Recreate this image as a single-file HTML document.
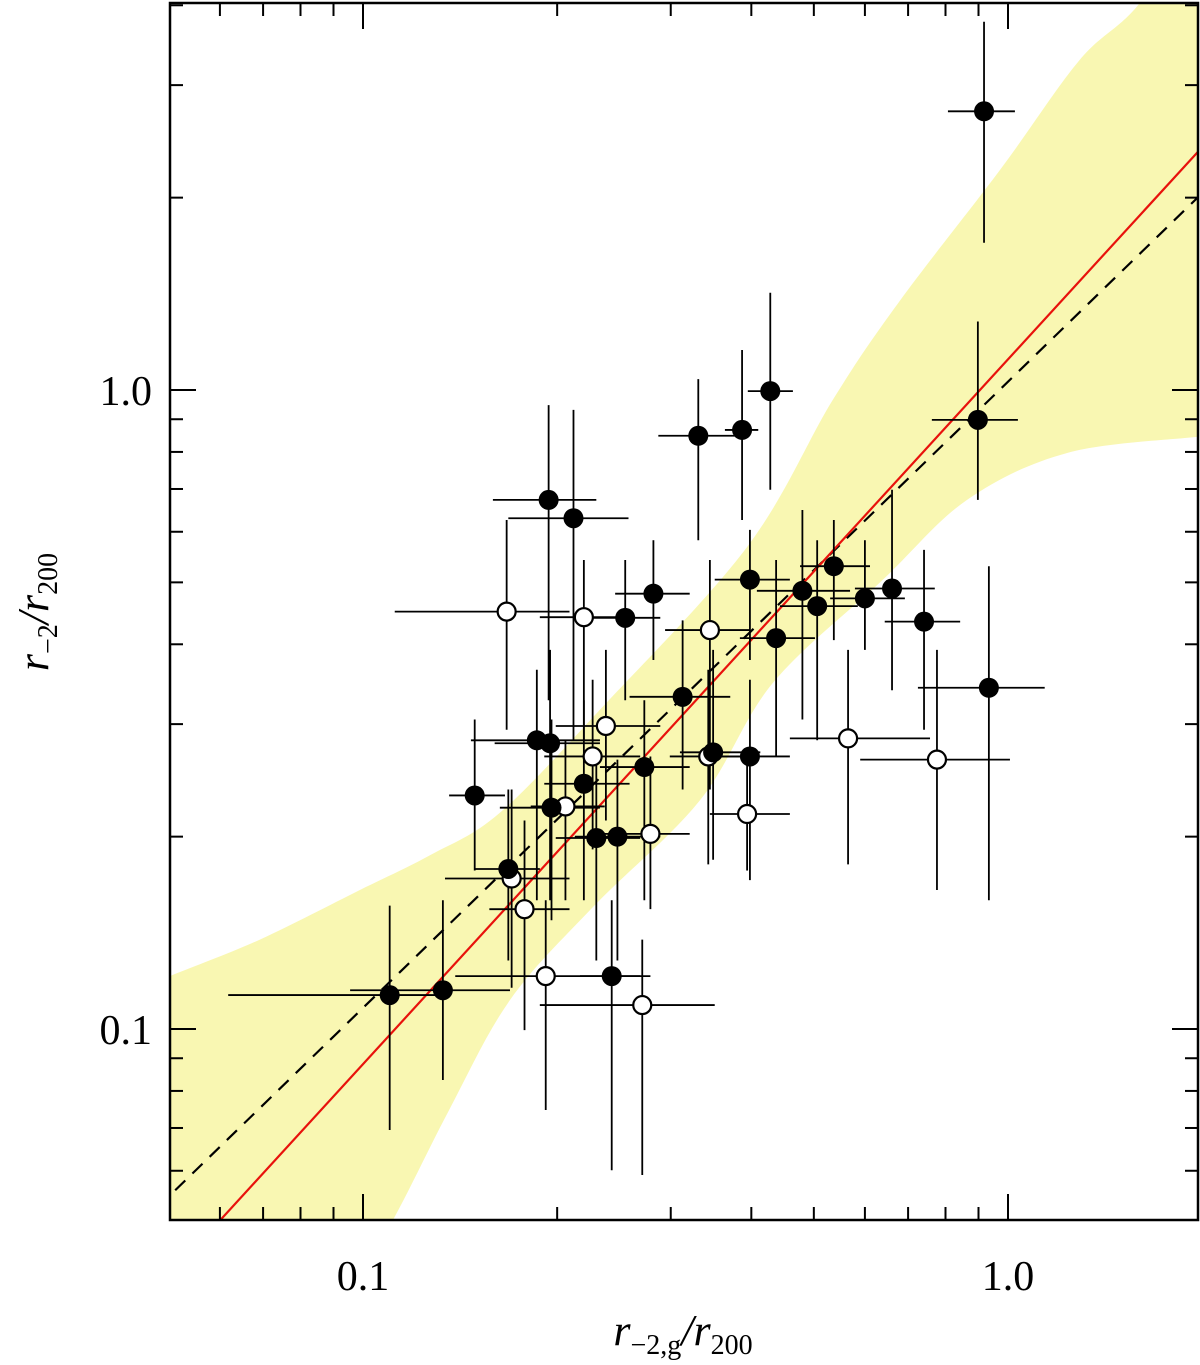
<!DOCTYPE html>
<html><head><meta charset="utf-8"><style>
html,body{margin:0;padding:0;background:#fff;width:1200px;height:1365px;overflow:hidden}
svg{display:block}
text{font-family:"Liberation Serif",serif;fill:#000}
</style></head><body>
<svg id="chart" width="1200" height="1365" viewBox="0 0 1200 1365">
<defs><clipPath id="plotclip"><rect x="170" y="3" width="1028" height="1217"/></clipPath></defs>
<g id="band" clip-path="url(#plotclip)"></g>
<g id="lines" clip-path="url(#plotclip)"></g>
<g id="errs"></g>
<g id="pts"></g>
<g id="axes"></g>
<text x="683" y="1345" text-anchor="middle" font-size="44" font-style="italic">r<tspan font-size="28" dy="9" font-style="normal">−2,g</tspan><tspan dy="-9">/r</tspan><tspan font-size="28" dy="9" font-style="normal">200</tspan></text>
<text transform="translate(48,612) rotate(-90)" text-anchor="middle" font-size="44" font-style="italic">r<tspan font-size="28" dy="9" font-style="normal">−2</tspan><tspan dy="-9">/r</tspan><tspan font-size="28" dy="9" font-style="normal">200</tspan></text>
</svg>
<script>
const filledX=[.918,.898,.934,.428,.387,.331,.194,.212,.282,.255,.398,.480,.506,.537,.600,.661,.741,.437,.313,.349,.398,.273,.186,.195,.220,.149,.196,.230,.248,.168,.243,.133,.110];
const filledY=[2.73,.898,.342,.996,.866,.848,.673,.630,.480,.440,.505,.485,.459,.530,.472,.489,.434,.409,.331,.271,.267,.257,.283,.280,.242,.232,.222,.199,.200,.178,.121,.115,.113];
const filledXlo=[.807,.762,.725,.395,.364,.287,.159,.168,.246,.217,.351,.408,.443,.476,.530,.579,.644,.384,.259,.310,.351,.233,.147,.160,.191,.136,.163,.199,.213,.149,.217,.0955,.0618];
const filledXhi=[1.025,1.036,1.14,.464,.410,.377,.230,.258,.321,.289,.459,.569,.585,.611,.692,.770,.843,.502,.371,.413,.459,.321,.233,.233,.259,.166,.233,.269,.289,.188,.279,.169,.132];
const filledYlo=[1.70,.673,.159,.698,.626,.582,.327,.283,.378,.327,.378,.305,.283,.406,.392,.339,.294,.267,.237,.184,.171,.159,.159,.159,.159,.177,.148,.128,.128,.128,.0601,.0832,.0695];
const filledYhi=[3.77,1.28,.530,1.42,1.155,1.04,.947,.931,.582,.542,.604,.649,.582,.626,.582,.698,.562,.542,.436,.392,.352,.327,.365,.392,.327,.305,.305,.264,.264,.237,.159,.159,.156];
const openX=[.167,.220,.345,.238,.227,.343,.565,.776,.206,.394,.279,.170,.178,.192,.271];
const openY=[.450,.441,.421,.298,.267,.267,.285,.264,.223,.217,.202,.172,.154,.121,.109];
const openXlo=[.112,.188,.294,.199,.191,.299,.459,.590,.182,.345,.233,.134,.157,.139,.188];
const openXhi=[.209,.259,.398,.289,.269,.391,.757,1.007,.237,.459,.321,.209,.209,.269,.351];
const openYlo=[.294,.283,.237,.212,.191,.181,.181,.165,.159,.177,.154,.116,.0996,.0747,.0591];
const openYhi=[.626,.542,.542,.392,.352,.365,.392,.392,.283,.273,.267,.237,.212,.159,.138];
const bandUpX=[0.04,0.0502,0.0692,0.0989,0.127,0.163,0.233,0.394,0.535,0.680,0.972,1.29,1.60,2.1];
const bandUpY=[0.11,0.121,0.138,0.165,0.187,0.218,0.316,0.568,0.965,1.38,2.21,3.28,4.03,6];
const bandLoX=[0.04,0.09,0.111,0.136,0.169,0.227,0.333,0.432,0.640,0.864,1.235,1.97,2.1];
const bandLoY=[0.02,0.035,0.05,0.0747,0.111,0.155,0.228,0.348,0.505,0.673,0.797,0.845,0.85];
const redFit=[0.048,1.103];
const dashFit=[0.013,0.980];
const xTickMajor=[0.1,1.0], xTickLabels=["0.1","1.0"];
const xTickMinor=[0.06,0.07,0.08,0.09,0.2,0.3,0.4,0.5,0.6,0.7,0.8,0.9,2];
const yTickMajor=[0.1,1.0], yTickLabels=["0.1","1.0"];
const yTickMinor=[0.06,0.07,0.08,0.09,0.2,0.3,0.4,0.5,0.6,0.7,0.8,0.9,2,3,4];
const X0=170,X1=1198,Y0=3,Y1=1220;
const sx=v=>1008+645*Math.log10(v);
const sy=v=>390-639*Math.log10(v);
const NS='http://www.w3.org/2000/svg';
function mk(tag,parent,attrs){const e=document.createElementNS(NS,tag);for(const k in attrs)e.setAttribute(k,attrs[k]);parent.appendChild(e);return e;}
function smooth(p){let d='M'+p[0][0]+','+p[0][1];for(let i=0;i<p.length-1;i++){const p0=p[Math.max(0,i-1)],p1=p[i],p2=p[i+1],p3=p[Math.min(p.length-1,i+2)];
d+=' C'+(p1[0]+(p2[0]-p0[0])/6)+','+(p1[1]+(p2[1]-p0[1])/6)+' '+(p2[0]-(p3[0]-p1[0])/6)+','+(p2[1]-(p3[1]-p1[1])/6)+' '+p2[0]+','+p2[1];}return d;}
const up=bandUpX.map((v,i)=>[sx(v),sy(bandUpY[i])]);
const lo=bandLoX.map((v,i)=>[sx(v),sy(bandLoY[i])]).reverse();
const poly=mk('path',document.getElementById('band'),{d:smooth(up)+' L'+lo[0][0]+','+lo[0][1]+' '+smooth(lo).slice(1)+' Z',fill:'#f9f7b2'});


const lg=document.getElementById('lines');
function fitLine(f,attrs,name){const a=0.04,b=2.2;const l=mk('line',lg,Object.assign({x1:sx(a),y1:sy(Math.pow(10,f[0]+f[1]*Math.log10(a))),x2:sx(b),y2:sy(Math.pow(10,f[0]+f[1]*Math.log10(b)))},attrs));

}
fitLine(dashFit,{stroke:'#000','stroke-width':2.2,'stroke-dasharray':'14,10'},'dashed-one-to-one-line');
fitLine(redFit,{stroke:'#e8120c','stroke-width':2.2},'red-fit-line');
const eg=document.getElementById('errs'),pg=document.getElementById('pts');
function series(X,Y,xl,xh,yl,yh,fill,name){
 X.forEach((v,i)=>{
  const h=mk('line',eg,{x1:sx(xl[i]),x2:sx(xh[i]),y1:sy(Y[i]),y2:sy(Y[i]),stroke:'#000','stroke-width':1.8});
  
  
  const vv=mk('line',eg,{x1:sx(v),x2:sx(v),y1:sy(yl[i]),y2:sy(yh[i]),stroke:'#000','stroke-width':1.8});
  
  
 });
 X.forEach((v,i)=>{
  const c=mk('circle',pg,{cx:sx(v),cy:sy(Y[i]),r:fill?10:9,fill:fill?'#000':'#fff',stroke:'#000','stroke-width':fill?0:2.2});
  
  
 });
}
series(openX,openY,openXlo,openXhi,openYlo,openYhi,false,'open');
series(filledX,filledY,filledXlo,filledXhi,filledYlo,filledYhi,true,'filled');
const ag=document.getElementById('axes');
const fr=mk('rect',ag,{x:X0,y:Y0,width:X1-X0,height:Y1-Y0,fill:'none',stroke:'#000','stroke-width':2.5});


function tick(x1,y1,x2,y2,name){const t=mk('line',ag,{x1,y1,x2,y2,stroke:'#000','stroke-width':2});}
xTickMajor.forEach((v,i)=>{const x=sx(v);tick(x,Y1,x,Y1-26,'x-major-tick');tick(x,Y0,x,Y0+26,'x-major-tick-top');
 const t=mk('text',ag,{x:x,y:1290,'text-anchor':'middle','font-size':42});t.textContent=xTickLabels[i];
 
 });
xTickMinor.forEach(v=>{const x=sx(v);if(x>X1)return;tick(x,Y1,x,Y1-13,'x-minor-tick');tick(x,Y0,x,Y0+13,'x-minor-tick-top');});
yTickMajor.forEach((v,i)=>{const y=sy(v);tick(X0,y,X0+26,y,'y-major-tick');tick(X1,y,X1-26,y,'y-major-tick-right');
 const t=mk('text',ag,{x:152,y:y+15,'text-anchor':'end','font-size':42});t.textContent=yTickLabels[i];
 
 });
yTickMinor.forEach(v=>{const y=sy(v);if(y<Y0||y>Y1)return;tick(X0,y,X0+13,y,'y-minor-tick');tick(X1,y,X1-13,y,'y-minor-tick-right');});
</script>
</body></html>
